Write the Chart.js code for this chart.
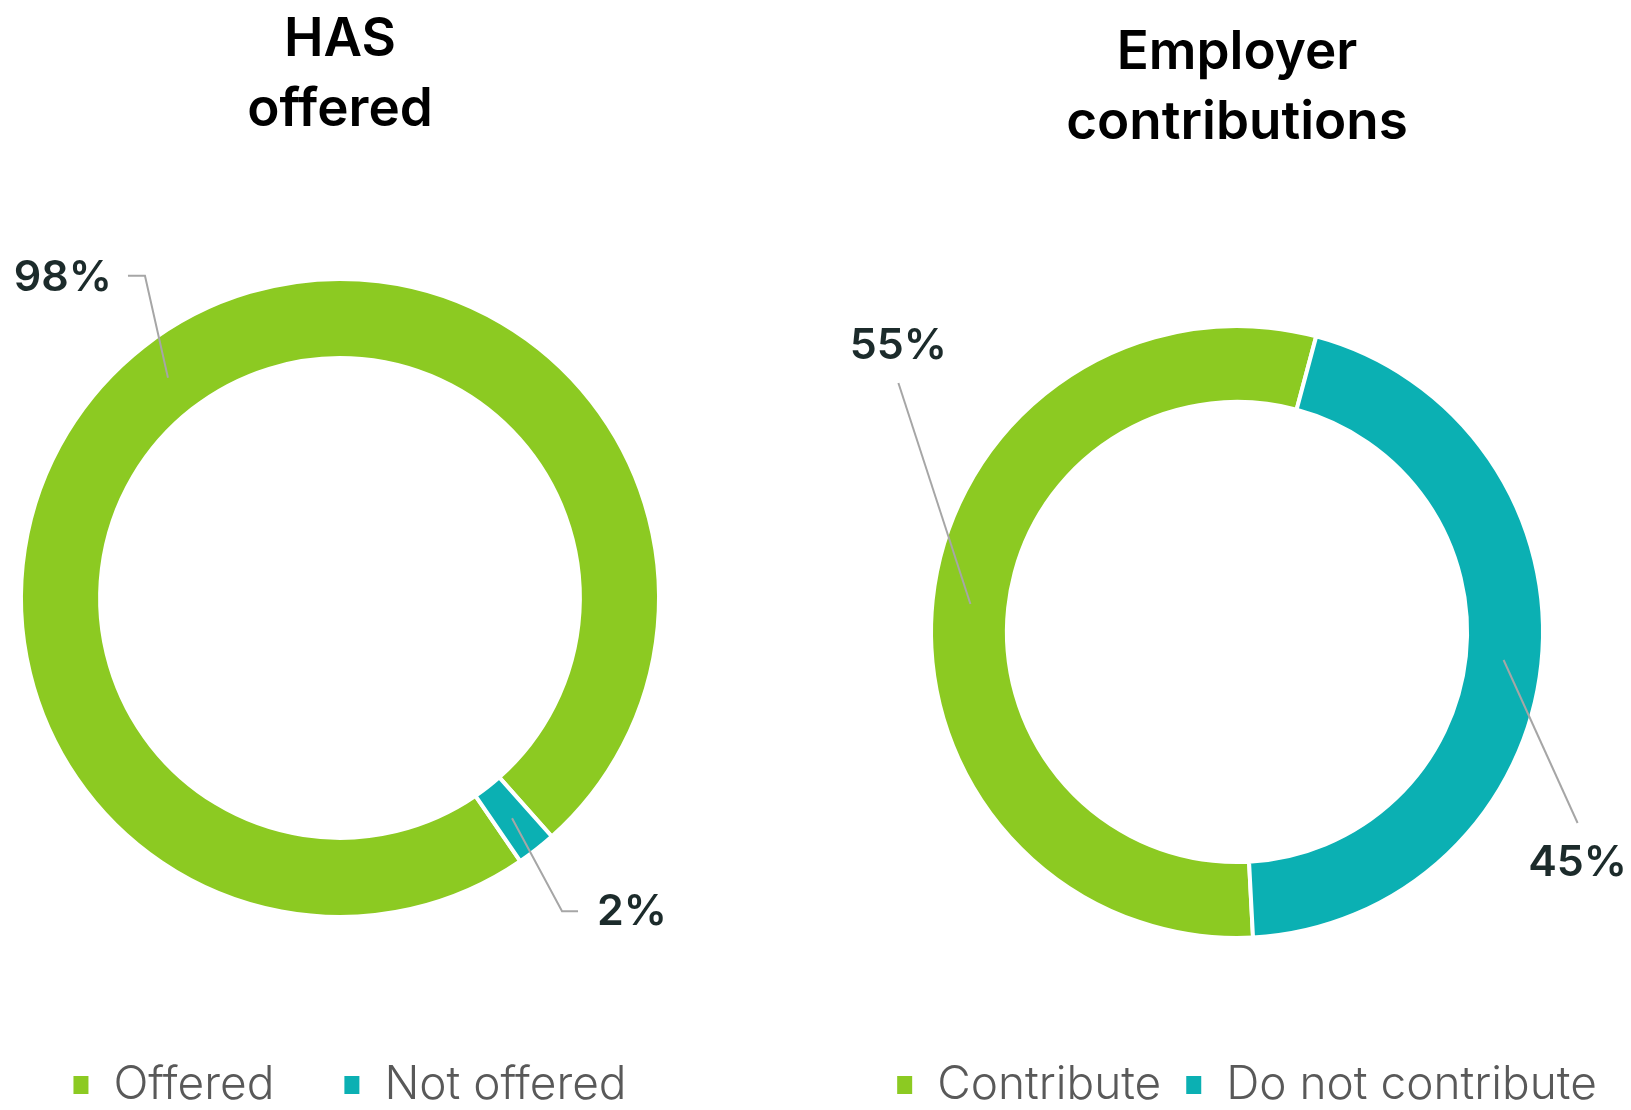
<!DOCTYPE html>
<html>
<head>
<meta charset="utf-8">
<script src="https://cdn.jsdelivr.net/npm/chart.js@4.4.1/dist/chart.umd.min.js"></script>
<style>
  html, body { margin: 0; padding: 0; background: #fff; overflow: hidden; }
  body { width: 1631px; height: 1110px; position: relative; }
  canvas { position: absolute; top: 0; }
  #hasChart { left: -40px; }
  #contribChart { left: 843px; }
</style>
</head>
<body>
<canvas id="hasChart" width="760" height="1120"></canvas>
<canvas id="contribChart" width="788" height="1120"></canvas>
<script>
const hasLabels = ["Offered", "Not offered"];
const hasValues = [98, 2];
const contribLabels = ["Contribute", "Do not contribute"];
const contribValues = [55, 45];
const sliceColors = ["#8cca22", "#0bb0b3"];

Chart.defaults.font.family = "Inter";

// value labels with leader lines, anchored on the middle of each ring slice
const leaderLabels = {
  id: "leaderLabels",
  afterLayout(chart, args, opts) {
    // legend sits a little right of the ring centre
    chart.legend.left += opts.legendShift;
    chart.legend.right += opts.legendShift;
  },
  afterDatasetsDraw(chart, args, opts) {
    const ctx = chart.ctx;
    const meta = chart.getDatasetMeta(0);
    const values = chart.data.datasets[0].data;
    meta.data.forEach((arc, i) => {
      const p = opts.placements[i];
      const { x, y, startAngle, endAngle, innerRadius, outerRadius } =
        arc.getProps(["x", "y", "startAngle", "endAngle", "innerRadius", "outerRadius"], true);
      const mid = (startAngle + endAngle) / 2;
      const r = (innerRadius + outerRadius) / 2;
      const ax = x + Math.cos(mid) * r;
      const ay = y + Math.sin(mid) * r;
      const ex = ax + p.dx;
      const ey = ay + p.dy;
      const hx = ex + (p.h || 0);
      ctx.save();
      ctx.strokeStyle = "#a6a6a6";
      ctx.lineWidth = 2;
      ctx.beginPath();
      ctx.moveTo(ax, ay);
      ctx.lineTo(ex, ey);
      if (p.h) ctx.lineTo(hx, ey);
      ctx.stroke();
      ctx.font = "600 43px Inter";
      ctx.fillStyle = "#1c2b2b";
      ctx.textAlign = p.align;
      ctx.textBaseline = "middle";
      ctx.fillText(values[i] + "%", hx + p.tx, ey + p.ty);
      ctx.restore();
    });
  }
};

function ringChart(id, labels, values, opts) {
  return new Chart(document.getElementById(id), {
    type: "doughnut",
    data: {
      labels: labels,
      datasets: [{
        data: values,
        backgroundColor: sliceColors,
        borderColor: "#ffffff",
        borderWidth: 4,
        radius: opts.radius,
        cutout: "75.2%",
        rotation: opts.rotation
      }]
    },
    plugins: [leaderLabels],
    options: {
      responsive: false,
      animation: false,
      layout: { padding: { bottom: 2 } },
      plugins: {
        title: {
          display: true,
          text: opts.title,
          color: "#000000",
          font: { size: 53, weight: 600, lineHeight: 1.32 },
          padding: opts.titlePadding
        },
        legend: {
          position: "bottom",
          labels: {
            boxWidth: 19,
            boxHeight: 22,
            padding: opts.legendGap,
            color: "#595959",
            font: { size: 46, weight: 300 }
          }
        },
        tooltip: { enabled: false },
        leaderLabels: { placements: opts.placements, legendShift: 9 }
      }
    }
  });
}

ringChart("hasChart", hasLabels, hasValues, {
  title: ["HAS", "offered"],
  titlePadding: { top: 5.5, bottom: 56.5 },
  legendGap: 68,
  radius: 319,
  rotation: 145.6,
  placements: [
    { dx: -23, dy: -102, h: -17, align: "right", tx: -16, ty: 2 },
    { dx: 50, dy: 93, h: 16, align: "left", tx: 19, ty: 1 }
  ]
});

ringChart("contribChart", contribLabels, contribValues, {
  title: ["Employer", "contributions"],
  titlePadding: { top: 18.5, bottom: 66.5 },
  legendGap: 23,
  radius: 306,
  rotation: 177,
  placements: [
    { dx: -72, dy: -221, h: 0, align: "center", tx: 0, ty: -37 },
    { dx: 74, dy: 163, h: 0, align: "center", tx: 0, ty: 40 }
  ]
});
</script>
</body>
</html>
